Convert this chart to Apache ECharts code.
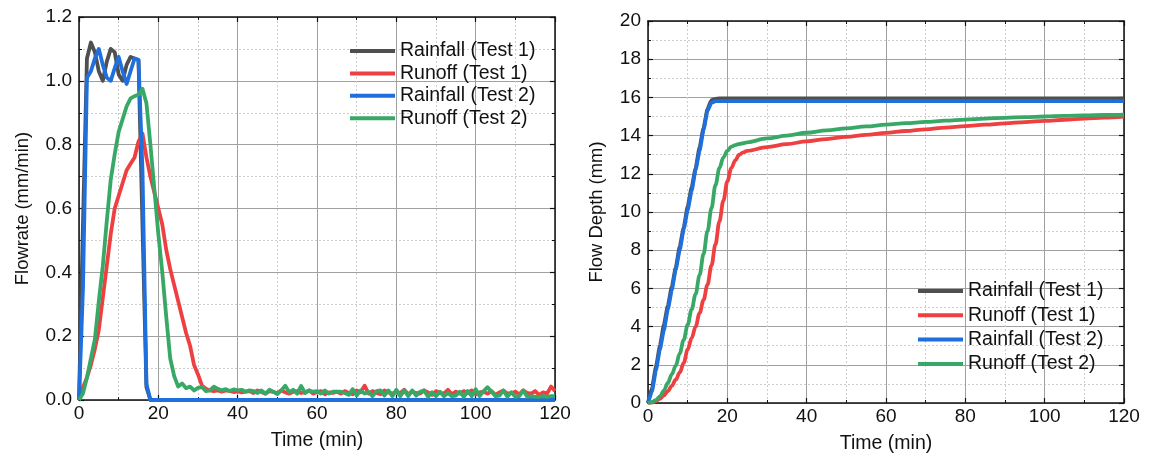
<!DOCTYPE html>
<html>
<head>
<meta charset="utf-8">
<script src="https://cdn.jsdelivr.net/npm/echarts@6/dist/echarts.min.js"></script>
<style>
  html, body { margin: 0; padding: 0; background: #fff; }
  #chart { width: 1149px; height: 462px; }
</style>
</head>
<body>
<div id="chart"></div>
<script>
// ---- Flowrate (mm/min), sampled every minute ----
const minutes = Array.from({ length: 121 }, (_, i) => i);

const rainRateTime = [0,1,2,3,4,5,6,7,8,9,10,11,12,13,14,15,16,17,18,120];
const rain1Rate = [0,0.55,1.07,1.12,1.09,1.03,1.00,1.06,1.10,1.09,1.02,1.00,1.05,1.075,1.07,1.065,0.55,0.04,0,0];
const rain2Rate = [0,0.35,1.01,1.03,1.07,1.10,1.05,1.01,1.00,1.04,1.075,1.03,0.99,1.03,1.07,1.065,0.72,0.05,0,0];

const runoff1Rate = [
  0,0.04,0.07,0.11,0.16,0.22,0.32,0.42,0.52,0.60,0.64,0.68,0.72,0.74,0.76,0.81,0.835,0.76,0.70,0.65,
  0.60,0.55,0.47,0.41,0.36,0.31,0.26,0.21,0.17,0.11,0.08,
  0.045,0.035,0.030,0.028,0.030,0.026,0.030,0.028,0.025,0.027,0.024,0.026,0.028,0.022,0.030,0.025,0.020,0.028,0.025,0.022,
  0.030,0.024,0.020,0.026,0.028,0.022,0.024,0.030,0.020,0.025,0.028,0.018,0.024,0.022,0.026,0.020,0.028,0.022,0.018,0.030,
  0.024,0.045,0.020,0.028,0.022,0.018,0.030,0.024,0.020,0.026,0.022,0.032,0.018,0.026,0.022,0.020,0.030,0.024,0.016,0.028,
  0.022,0.020,0.032,0.018,0.026,0.020,0.028,0.022,0.030,0.018,0.024,0.026,0.020,0.028,0.016,0.024,0.030,0.020,0.022,0.026,
  0.018,0.030,0.022,0.020,0.028,0.016,0.024,0.020,0.042,0.028
];
const runoff2Rate = [
  0,0.02,0.07,0.13,0.19,0.31,0.42,0.56,0.69,0.77,0.84,0.88,0.92,0.945,0.952,0.957,0.975,0.93,0.80,0.66,
  0.52,0.40,0.26,0.13,0.075,0.042,0.052,0.037,0.042,0.030,0.038,
  0.040,0.028,0.030,0.042,0.035,0.030,0.034,0.028,0.033,0.030,
  0.032,0.026,0.030,0.028,0.022,0.030,0.020,0.032,0.026,0.018,
  0.030,0.045,0.024,0.032,0.020,0.044,0.022,0.030,0.026,0.028,
  0.020,0.030,0.020,0.026,0.026,0.026,0.022,0.016,0.034,0.014,
  0.030,0.020,0.026,0.012,0.028,0.030,0.014,0.030,0.012,0.032,
  0.012,0.030,0.012,0.030,0.014,0.026,0.030,0.010,0.024,0.012,
  0.026,0.012,0.022,0.012,0.014,0.026,0.010,0.028,0.012,0.034,
  0.012,0.028,0.040,0.026,0.012,0.014,0.030,0.010,0.024,0.010,
  0.012,0.030,0.010,0.012,0.010,0.010,0.012,0.010,0.012,0.012
];

// ---- Flow depth (mm) ----
const rainDepthTime = [0,1,2,3,4,5,6,7,8,9,10,11,12,13,14,15,16,17,18,120];
const rain1Depth = [0,0.8,1.9,3.0,4.1,5.1,6.1,7.1,8.2,9.2,10.3,11.3,12.3,13.4,14.4,15.4,15.85,15.92,15.95,15.95];
const rain2Depth = [0,0.6,1.7,2.8,3.8,4.9,5.9,7.0,8.0,9.1,10.1,11.1,12.2,13.2,14.3,15.3,15.72,15.8,15.8,15.8];

const runoffDepthTime = [0,1,2,3,4,5,6,7,8,9,10,11,12,13,14,15,16,17,18,19,20,21,22,23,24,25,
  30,35,40,45,50,55,60,65,70,75,80,85,90,95,100,105,110,115,120];
const runoff1Depth = [0,0.03,0.1,0.22,0.4,0.62,0.9,1.22,1.6,2.1,2.8,3.4,4.0,4.7,5.4,6.2,7.2,8.3,9.5,10.6,11.6,12.3,12.7,13.0,13.12,13.2,
  13.4,13.55,13.7,13.82,13.93,14.04,14.14,14.24,14.33,14.42,14.5,14.57,14.64,14.71,14.77,14.83,14.89,14.94,14.99];
const runoff2Depth = [0,0.05,0.15,0.35,0.65,1.05,1.5,1.95,2.6,3.3,4.1,4.9,5.7,6.7,7.8,9.0,10.2,11.4,12.3,12.86,13.2,13.42,13.5,13.56,13.6,13.65,
  13.85,14.0,14.15,14.27,14.38,14.48,14.57,14.65,14.72,14.78,14.84,14.89,14.93,14.97,15.0,15.03,15.06,15.08,15.1];

const seriesNames = ['Rainfall (Test 1)', 'Runoff (Test 1)', 'Rainfall (Test 2)', 'Runoff (Test 2)'];
const seriesColors = ['#4f4f4f', '#ee4040', '#1f6fdd', '#38a866'];

const FONT = 'Arial, "Liberation Sans", sans-serif';
const pairs = (xs, ys) => xs.map((x, i) => [x, ys[i]]);

function mainX(grid, title) {
  return {
    type: 'value', gridIndex: grid, min: 0, max: 120, interval: 20,
    name: title, nameLocation: 'middle', nameGap: 31,
    nameTextStyle: { fontFamily: FONT, fontSize: 19.5, color: '#111' },
    axisLine: { show: true, onZero: false, lineStyle: { color: '#111', width: 1.5 } },
    axisTick: { show: true, inside: true, length: 5, lineStyle: { color: '#111', width: 1.2 } },
    minorTick: { show: true, splitNumber: 2, length: 3, lineStyle: { color: '#111', width: 1 } },
    axisLabel: { fontFamily: FONT, fontSize: 19, color: '#111', margin: 4 },
    splitLine: { show: true, lineStyle: { color: '#a0a0a0', width: 1 } },
    minorSplitLine: { show: true, lineStyle: { color: '#cdcdcd', width: 1, type: [2, 2] } }
  };
}
function mirrorX(grid) {
  return {
    type: 'value', gridIndex: grid, min: 0, max: 120, interval: 20, position: 'top',
    axisLine: { show: true, onZero: false, lineStyle: { color: '#111', width: 1.5 } },
    axisTick: { show: true, inside: true, length: 5, lineStyle: { color: '#111', width: 1.2 } },
    minorTick: { show: true, splitNumber: 2, length: 3, lineStyle: { color: '#111', width: 1 } },
    axisLabel: { show: false }, splitLine: { show: false }
  };
}
function mainY(grid, max, step, title, gap, fmt) {
  return {
    type: 'value', gridIndex: grid, min: 0, max: max, interval: step,
    name: title, nameLocation: 'middle', nameGap: gap, nameRotate: 90,
    nameTextStyle: { fontFamily: FONT, fontSize: 18.4, color: '#111' },
    axisLine: { show: true, onZero: false, lineStyle: { color: '#111', width: 1.5 } },
    axisTick: { show: true, inside: true, length: 5, lineStyle: { color: '#111', width: 1.2 } },
    minorTick: { show: true, splitNumber: 2, length: 3, lineStyle: { color: '#111', width: 1 } },
    axisLabel: { fontFamily: FONT, fontSize: 19, color: '#111', margin: 7, formatter: fmt },
    splitLine: { show: true, lineStyle: { color: '#a0a0a0', width: 1 } },
    minorSplitLine: { show: true, lineStyle: { color: '#cdcdcd', width: 1, type: [2, 2] } }
  };
}
function mirrorY(grid, max, step) {
  return {
    type: 'value', gridIndex: grid, min: 0, max: max, interval: step, position: 'right',
    axisLine: { show: true, onZero: false, lineStyle: { color: '#111', width: 1.5 } },
    axisTick: { show: true, inside: true, length: 5, lineStyle: { color: '#111', width: 1.2 } },
    minorTick: { show: true, splitNumber: 2, length: 3, lineStyle: { color: '#111', width: 1 } },
    axisLabel: { show: false }, splitLine: { show: false }
  };
}
function line(name, color, data, xi, yi, smooth) {
  return {
    type: 'line', name: name, xAxisIndex: xi, yAxisIndex: yi, data: data,
    showSymbol: false, symbol: 'none', smooth: smooth || false, smoothMonotone: 'x',
    lineStyle: { color: color, width: 3.8, join: 'round' }, itemStyle: { color: color },
    animation: false, z: 3
  };
}
function legendAt(left, top, gap) {
  return {
    left: left, top: top, orient: 'vertical', icon: 'rect',
    itemWidth: 45, itemHeight: 4, itemGap: gap, selectedMode: false,
    textStyle: { fontFamily: FONT, fontSize: 19.5, color: '#111', lineHeight: 20 },
    data: seriesNames
  };
}

const chart = echarts.init(document.getElementById('chart'), null, { renderer: 'canvas' });
chart.setOption({
  backgroundColor: '#ffffff',
  animation: false,
  grid: [
    { left: 79, top: 17, width: 476, height: 383 },
    { left: 648, top: 21, width: 476, height: 382 }
  ],
  xAxis: [mainX(0, 'Time (min)'), mirrorX(0), mainX(1, 'Time (min)'), mirrorX(1)],
  yAxis: [
    mainY(0, 1.2, 0.2, 'Flowrate (mm/min)', 47, v => v.toFixed(1)),
    mirrorY(0, 1.2, 0.2),
    mainY(1, 20, 2, 'Flow Depth (mm)', 42, v => String(v)),
    mirrorY(1, 20, 2)
  ],
  legend: [legendAt(345, 36, 2.4), legendAt(913, 276, 4.3)],
  series: [
    line(seriesNames[0], seriesColors[0], pairs(rainRateTime, rain1Rate), 0, 0),
    line(seriesNames[1], seriesColors[1], pairs(minutes, runoff1Rate), 0, 0),
    line(seriesNames[2], seriesColors[2], pairs(rainRateTime, rain2Rate), 0, 0),
    line(seriesNames[3], seriesColors[3], pairs(minutes, runoff2Rate), 0, 0),
    line(seriesNames[0], seriesColors[0], pairs(rainDepthTime, rain1Depth), 2, 2, 0.15),
    line(seriesNames[1], seriesColors[1], pairs(runoffDepthTime, runoff1Depth), 2, 2, 0.35),
    line(seriesNames[2], seriesColors[2], pairs(rainDepthTime, rain2Depth), 2, 2, 0.15),
    line(seriesNames[3], seriesColors[3], pairs(runoffDepthTime, runoff2Depth), 2, 2, 0.35)
  ]
});
</script>
</body>
</html>
